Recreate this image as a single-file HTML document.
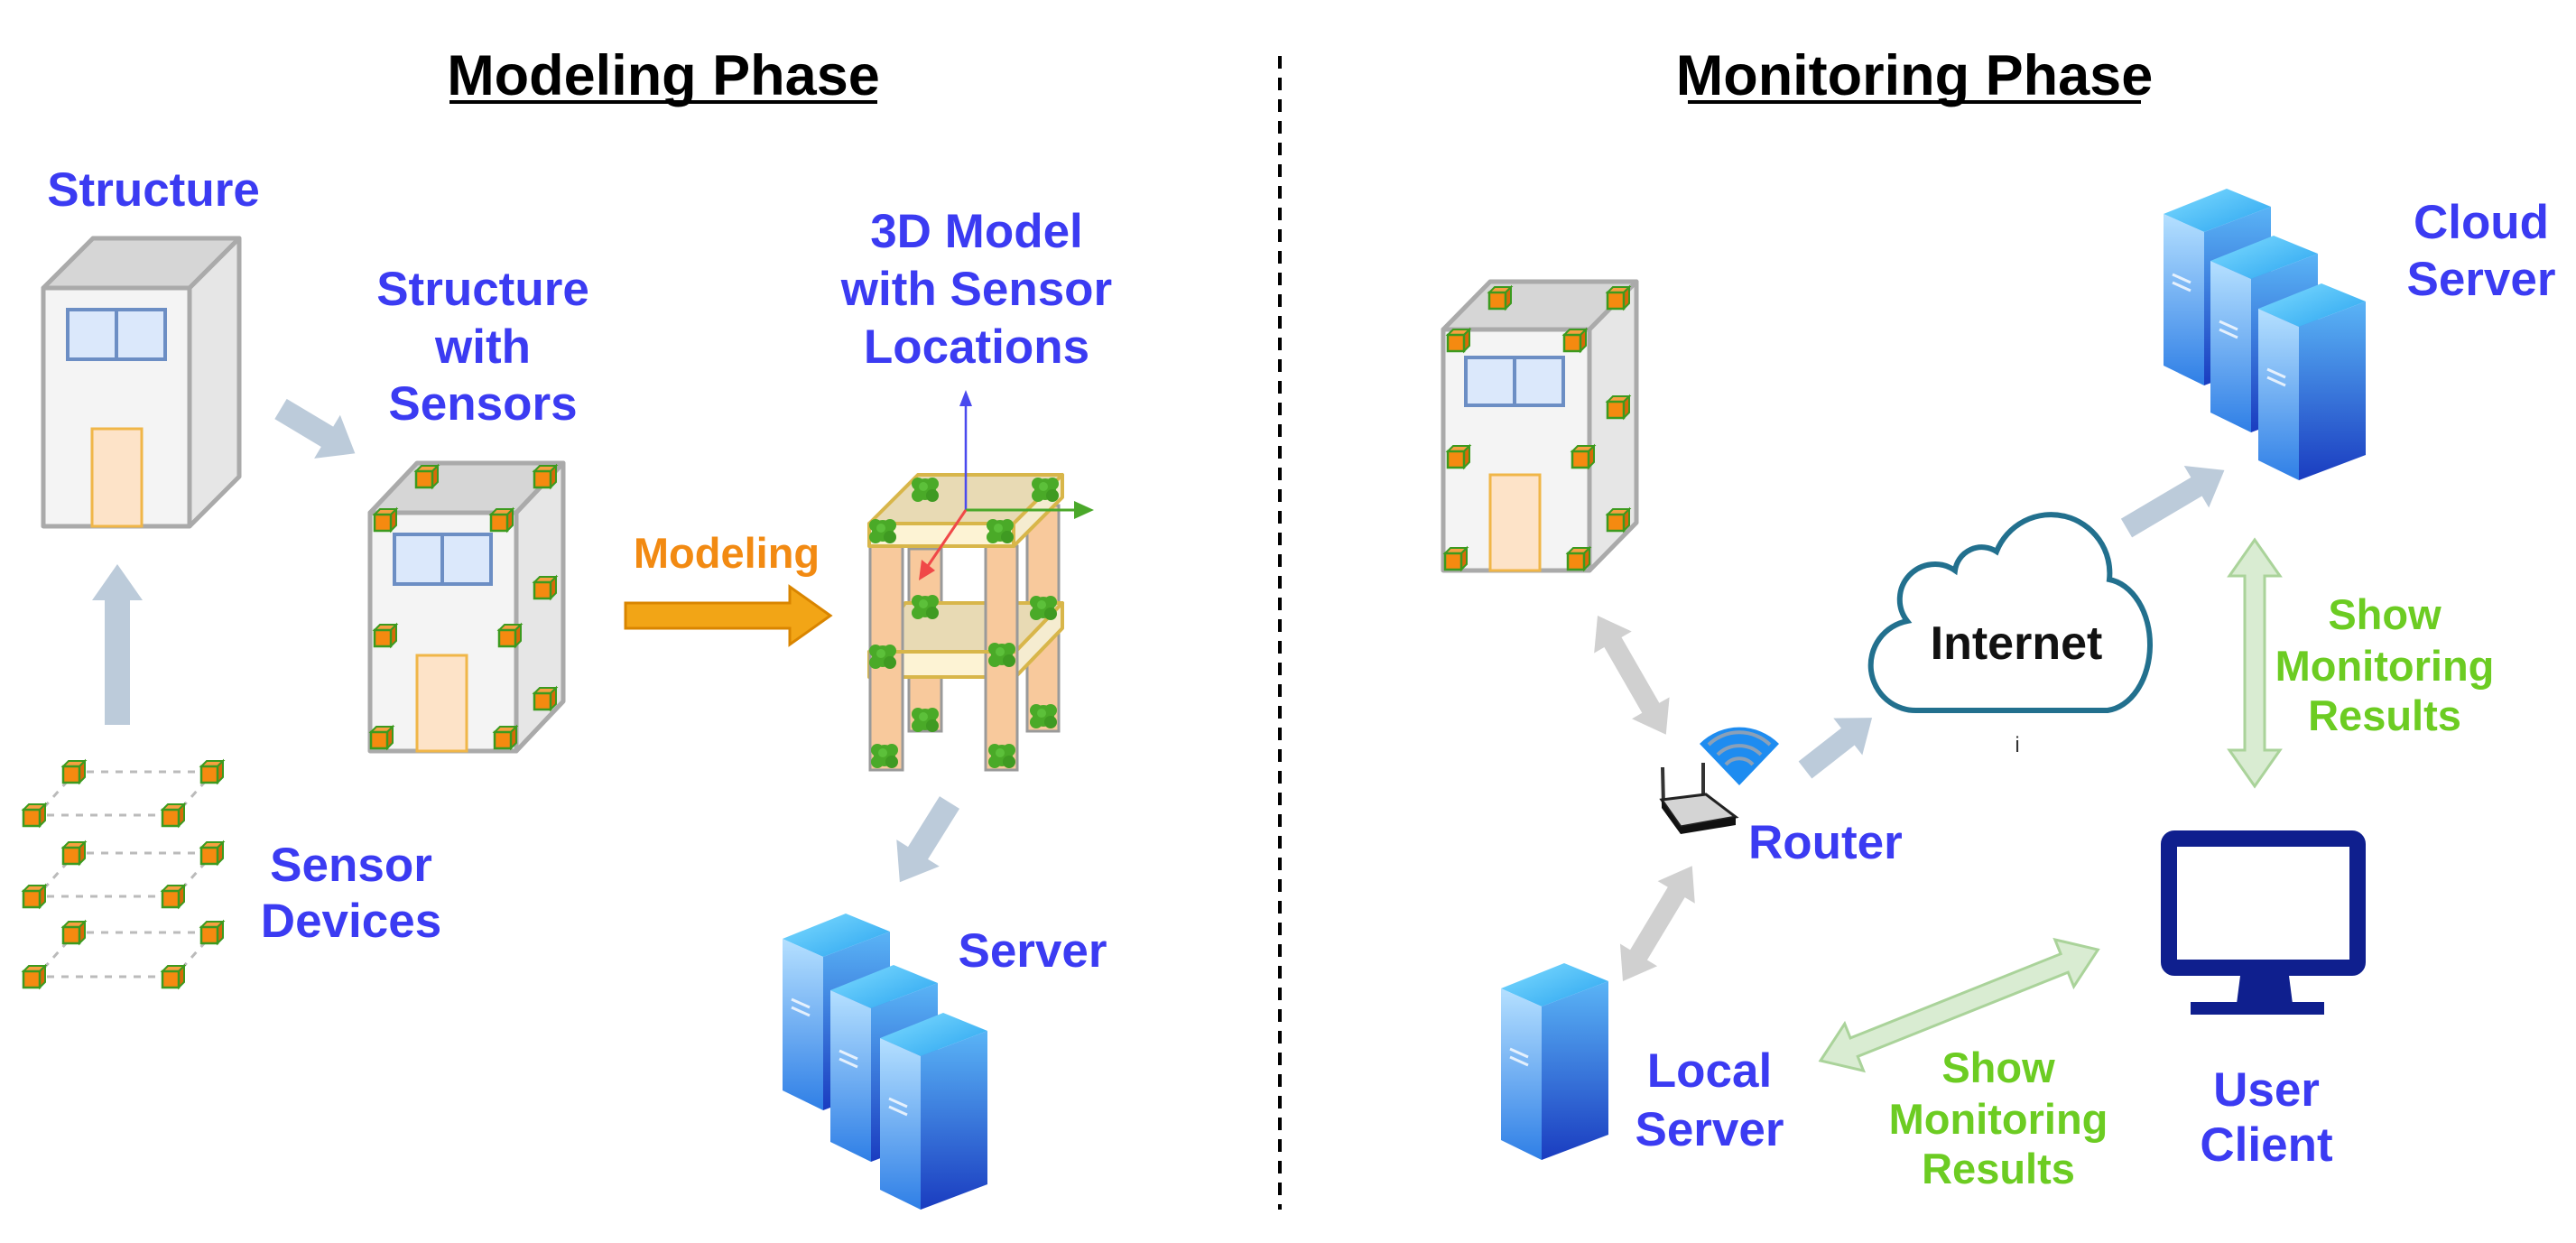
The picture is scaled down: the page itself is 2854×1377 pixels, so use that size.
<!DOCTYPE html>
<html><head><meta charset="utf-8"><style>
html,body{margin:0;padding:0;background:#fff;}
svg{display:block;}
text{font-family:"Liberation Sans",Arial,sans-serif;font-weight:bold;}
.b{fill:#3b3bf2;font-size:53px;}
.g{fill:#6ccc22;font-size:47px;}
</style></head><body>
<svg width="2854" height="1377" viewBox="0 0 2854 1377" xmlns="http://www.w3.org/2000/svg">
<defs>
<linearGradient id="gTop" x1="0" y1="0" x2="1" y2="1"><stop offset="0" stop-color="#7fdcff"/><stop offset="1" stop-color="#2aa4f0"/></linearGradient>
<linearGradient id="gLeft" x1="0" y1="0" x2="0" y2="1"><stop offset="0" stop-color="#b5e0ff"/><stop offset="1" stop-color="#2f7fe6"/></linearGradient>
<linearGradient id="gFront" x1="0" y1="0" x2="0" y2="1"><stop offset="0" stop-color="#5ab4f6"/><stop offset="1" stop-color="#1a3cc0"/></linearGradient>
<symbol id="srv" viewBox="0 0 119 218" width="119" height="218" overflow="visible">
<polygon points="0,28 70,0 119,20 45,48" fill="url(#gTop)"/>
<polygon points="0,28 45,48 45,218 0,196" fill="url(#gLeft)"/>
<polygon points="45,48 119,20 119,190 45,218" fill="url(#gFront)"/>
<line x1="10" y1="95" x2="30" y2="104" stroke="#fff" stroke-width="3" opacity=".8"/>
<line x1="10" y1="104" x2="30" y2="113" stroke="#fff" stroke-width="3" opacity=".8"/>
</symbol>
<symbol id="cube" viewBox="0 0 28 28" width="28" height="28" overflow="visible">
<polygon points="2,8 8,2 26,2 20,8" fill="#f7a040" stroke="#3c9a1e" stroke-width="2"/>
<polygon points="20,8 26,2 26,20 20,26" fill="#d86a08" stroke="#3c9a1e" stroke-width="2"/>
<rect x="2" y="8" width="18" height="18" fill="#f58a10" stroke="#3c9a1e" stroke-width="2.5"/>
</symbol>
<symbol id="blob" viewBox="-16 -16 32 32" width="32" height="32" overflow="visible">
<circle cx="0" cy="0" r="12" fill="#4aaa28"/>
<circle cx="-8" cy="-6" r="7" fill="#4aaa28"/><circle cx="8" cy="-6" r="7" fill="#4aaa28"/>
<circle cx="-8" cy="7" r="7" fill="#4aaa28"/><circle cx="8" cy="7" r="7" fill="#3f9a22"/>
<circle cx="-2" cy="-3" r="5" fill="#5cc03a"/>
</symbol>
</defs>

<text x="735" y="105" text-anchor="middle" style="font-size:63px" fill="#000">Modeling Phase</text>
<line x1="498" y1="113" x2="972" y2="113" stroke="#000" stroke-width="4"/>
<text x="2121" y="105" text-anchor="middle" style="font-size:63px" fill="#000">Monitoring Phase</text>
<line x1="1870" y1="113" x2="2372" y2="113" stroke="#000" stroke-width="4"/>

<line x1="1418" y1="62" x2="1418" y2="1340" stroke="#000" stroke-width="4" stroke-dasharray="14,10"/>

<g stroke="#aaa" stroke-width="5" stroke-linejoin="round">
<polygon points="48,319 210,319 265,264 103,264" fill="#d6d6d6"/>
<polygon points="210,319 265,264 265,528 210,583" fill="#e6e6e6"/>
<rect x="48" y="319" width="162" height="264" fill="#f4f4f4"/>
</g>
<rect x="75" y="343" width="108" height="55" fill="#dbe8fb" stroke="#6c8ec4" stroke-width="4"/>
<line x1="129" y1="343" x2="129" y2="398" stroke="#6c8ec4" stroke-width="4"/>
<rect x="102" y="475" width="55" height="108" fill="#fde3c8" stroke="#f0b648" stroke-width="3"/>
<text class="b" x="170" y="228" text-anchor="middle">Structure</text>

<g fill="#bccbda">
<polygon transform="translate(130,803) rotate(-90)" points="0,-14 138,-14 138,-28 178,0 138,28 138,14 0,14"/>
<polygon transform="translate(311,453) rotate(30.9)" points="0,-13 60,-13 60,-28 96,0 60,28 60,13 0,13"/>
<polygon transform="translate(1052,889) rotate(122)" points="0,-13 66,-13 66,-28 104,0 66,28 66,13 0,13"/>
</g>

<g stroke="#bbb" stroke-width="3" stroke-dasharray="8,8">
<line x1="96" y1="855" x2="235" y2="855"/><line x1="52" y1="903" x2="192" y2="903"/>
<line x1="96" y1="945" x2="235" y2="945"/><line x1="52" y1="993" x2="192" y2="993"/>
<line x1="96" y1="1033" x2="235" y2="1033"/><line x1="52" y1="1082" x2="192" y2="1082"/>
<line x1="75" y1="865" x2="50" y2="893"/><line x1="228" y1="865" x2="203" y2="893"/>
<line x1="75" y1="955" x2="50" y2="983"/><line x1="228" y1="955" x2="203" y2="983"/>
<line x1="75" y1="1043" x2="50" y2="1071"/><line x1="228" y1="1043" x2="203" y2="1071"/>
</g>
<use href="#cube" x="68" y="841"/><use href="#cube" x="221" y="841"/>
<use href="#cube" x="24" y="889"/><use href="#cube" x="178" y="889"/>
<use href="#cube" x="68" y="931"/><use href="#cube" x="221" y="931"/>
<use href="#cube" x="24" y="979"/><use href="#cube" x="178" y="979"/>
<use href="#cube" x="68" y="1019"/><use href="#cube" x="221" y="1019"/>
<use href="#cube" x="24" y="1068"/><use href="#cube" x="178" y="1068"/>
<text class="b" x="389" y="976" text-anchor="middle">Sensor</text>
<text class="b" x="389" y="1038" text-anchor="middle">Devices</text>

<g stroke="#aaa" stroke-width="5" stroke-linejoin="round">
<polygon points="410,568 572,568 624,513 462,513" fill="#d6d6d6"/>
<polygon points="572,568 624,513 624,777 572,832" fill="#e6e6e6"/>
<rect x="410" y="568" width="162" height="264" fill="#f4f4f4"/>
</g>
<rect x="437" y="592" width="107" height="55" fill="#dbe8fb" stroke="#6c8ec4" stroke-width="4"/>
<line x1="490" y1="592" x2="490" y2="647" stroke="#6c8ec4" stroke-width="4"/>
<rect x="462" y="726" width="55" height="106" fill="#fde3c8" stroke="#f0b648" stroke-width="3"/>
<use href="#cube" x="459" y="514"/><use href="#cube" x="590" y="514"/>
<use href="#cube" x="413" y="562"/><use href="#cube" x="542" y="562"/>
<use href="#cube" x="590" y="637"/><use href="#cube" x="413" y="690"/>
<use href="#cube" x="551" y="690"/><use href="#cube" x="590" y="760"/>
<use href="#cube" x="409" y="803"/><use href="#cube" x="546" y="803"/>
<text class="b" x="535" y="338" text-anchor="middle">Structure</text>
<text class="b" x="535" y="402" text-anchor="middle">with</text>
<text class="b" x="535" y="465" text-anchor="middle">Sensors</text>

<text x="805" y="629" text-anchor="middle" style="font-size:47px" fill="#f28a12">Modeling</text>
<polygon points="693,668 875,668 875,650 920,682 875,714 875,696 693,696" fill="#f2a516" stroke="#d98500" stroke-width="3"/>

<text class="b" x="1082" y="274" text-anchor="middle">3D Model</text>
<text class="b" x="1082" y="338" text-anchor="middle">with Sensor</text>
<text class="b" x="1082" y="402" text-anchor="middle">Locations</text>
<g stroke="#9a9a9a" stroke-width="3">
<rect x="1138" y="560" width="35" height="250" fill="#f8c99c"/>
<rect x="1007" y="608" width="36" height="202" fill="#f8c99c"/>
</g>
<g stroke="#d8b64a" stroke-width="4" stroke-linejoin="round">
<polygon points="963,722 1125,722 1177,668 1003,668" fill="#e8dab4"/>
<polygon points="1125,722 1177,668 1177,696 1125,750" fill="#f5ecd0"/>
<rect x="963" y="722" width="162" height="28" fill="#fdf3d4"/>
</g>
<g stroke="#9a9a9a" stroke-width="3">
<rect x="964" y="605" width="36" height="248" fill="#f8c99c"/>
<rect x="1092" y="605" width="35" height="248" fill="#f8c99c"/>
</g>
<g stroke="#d8b64a" stroke-width="4" stroke-linejoin="round">
<polygon points="963,580 1123,580 1177,526 1017,526" fill="#e8dab4"/>
<polygon points="1123,580 1177,526 1177,551 1123,605" fill="#f5ecd0"/>
<rect x="963" y="580" width="160" height="25" fill="#fdf3d4"/>
<line x1="963" y1="722" x2="1125" y2="722"/>
</g>
<use href="#blob" x="1009" y="526"/><use href="#blob" x="1142" y="526"/>
<use href="#blob" x="962" y="572"/><use href="#blob" x="1092" y="572"/>
<use href="#blob" x="1009" y="656"/><use href="#blob" x="1140" y="657"/>
<use href="#blob" x="962" y="711"/><use href="#blob" x="1094" y="709"/>
<use href="#blob" x="1009" y="781"/><use href="#blob" x="1140" y="777"/>
<use href="#blob" x="964" y="821"/><use href="#blob" x="1094" y="821"/>
<line x1="1070" y1="565" x2="1070" y2="446" stroke="#4a4aee" stroke-width="2.5"/>
<polygon points="1070,432 1063,450 1077,450" fill="#4a4aee"/>
<line x1="1070" y1="565" x2="1195" y2="565" stroke="#4aa82a" stroke-width="3"/>
<polygon points="1212,565 1190,555 1190,575" fill="#4aa82a"/>
<line x1="1070" y1="565" x2="1026" y2="630" stroke="#f04848" stroke-width="3"/>
<polygon points="1018,643 1021,620 1036,632" fill="#f04848"/>

<use href="#srv" x="867" y="1012"/>
<use href="#srv" x="920" y="1069"/>
<use href="#srv" x="975" y="1122"/>
<text class="b" x="1144" y="1071" text-anchor="middle">Server</text>

<g stroke="#aaa" stroke-width="5" stroke-linejoin="round">
<polygon points="1599,365 1761,365 1813,312 1651,312" fill="#d6d6d6"/>
<polygon points="1761,365 1813,312 1813,579 1761,632" fill="#e6e6e6"/>
<rect x="1599" y="365" width="162" height="267" fill="#f4f4f4"/>
</g>
<rect x="1624" y="396" width="108" height="53" fill="#dbe8fb" stroke="#6c8ec4" stroke-width="4"/>
<line x1="1678" y1="396" x2="1678" y2="449" stroke="#6c8ec4" stroke-width="4"/>
<rect x="1651" y="526" width="55" height="106" fill="#fde3c8" stroke="#f0b648" stroke-width="3"/>
<use href="#cube" x="1648" y="316"/><use href="#cube" x="1779" y="316"/>
<use href="#cube" x="1602" y="363"/><use href="#cube" x="1731" y="363"/>
<use href="#cube" x="1779" y="437"/><use href="#cube" x="1602" y="492"/>
<use href="#cube" x="1740" y="492"/><use href="#cube" x="1779" y="562"/>
<use href="#cube" x="1599" y="605"/><use href="#cube" x="1735" y="605"/>

<g fill="#d0d0d0">
<polygon transform="translate(1770,682) rotate(60.1)" points="0,0 34,-24 34,-11 118,-11 118,-24 152,0 118,24 118,11 34,11 34,24"/>
<polygon transform="translate(1798,1087) rotate(-59)" points="0,0 34,-24 34,-11 115,-11 115,-24 149,0 115,24 115,11 34,11 34,24"/>
</g>
<g fill="#bccbda">
<polygon transform="translate(2000,853) rotate(-38)" points="0,-12 60,-12 60,-26 94,0 60,26 60,12 0,12"/>
<polygon transform="translate(2356,585) rotate(-30.6)" points="0,-12 90,-12 90,-27 126,0 90,27 90,12 0,12"/>
</g>

<!-- Router -->
<path d="M1927,870 L1883,824 A62,62 0 0 1 1971,824 Z" fill="#1e8cf0"/>
<g fill="none" stroke="#8aa0b8" stroke-width="4">
<path d="M1893,825 A49,49 0 0 1 1961,825"/>
<path d="M1903,836 A34,34 0 0 1 1951,836"/>
<path d="M1912,847 A20,20 0 0 1 1942,847"/>
</g>
<line x1="1842" y1="850" x2="1843" y2="892" stroke="#333" stroke-width="4"/>
<line x1="1887" y1="845" x2="1887" y2="886" stroke="#333" stroke-width="4"/>
<polygon points="1841,886 1890,880 1923,905 1862,916" fill="#d4d4d4" stroke="#222" stroke-width="3"/>
<polygon points="1841,886 1862,916 1923,905 1923,914 1862,924 1841,895" fill="#111"/>
<text class="b" x="1937" y="951">Router</text>

<!-- Cloud -->
<path d="M2125,787 H2335 A52,73 0 0 0 2337,642 A65,65 0 0 0 2212,611 A30,30 0 0 0 2166,632 A39,39 0 0 0 2113,688 A50,50 0 0 0 2125,787 Z" fill="#fff" stroke="#22708e" stroke-width="6"/>
<text x="2234" y="730" text-anchor="middle" style="font-size:52px" fill="#111">Internet</text>
<text x="2235" y="833" text-anchor="middle" style="font-size:24px;font-weight:normal" fill="#333">i</text>

<use href="#srv" x="2397" y="209"/>
<use href="#srv" x="2449" y="261"/>
<use href="#srv" x="2502" y="314"/>
<text class="b" x="2749" y="264" text-anchor="middle">Cloud</text>
<text class="b" x="2749" y="327" text-anchor="middle">Server</text>

<g fill="#d9ecd2" stroke="#aad39a" stroke-width="3">
<polygon transform="translate(2498,598) rotate(90)" points="0,0 40,-28 40,-11 233,-11 233,-28 273,0 233,28 233,11 40,11 40,28"/>
<polygon transform="translate(2017,1175) rotate(-21.8)" points="0,0 40,-28 40,-11 291,-11 291,-28 331,0 291,28 291,11 40,11 40,28"/>
</g>
<text class="g" x="2642" y="697" text-anchor="middle">Show</text>
<text class="g" x="2642" y="754" text-anchor="middle">Monitoring</text>
<text class="g" x="2642" y="809" text-anchor="middle">Results</text>

<rect x="2403" y="929" width="209" height="143" rx="6" fill="#fff" stroke="#0f1f8e" stroke-width="18"/>
<polygon points="2482,1081 2536,1081 2540,1112 2478,1112" fill="#0f1f8e"/>
<rect x="2427" y="1110" width="148" height="14" fill="#0f1f8e"/>
<text class="b" x="2511" y="1225" text-anchor="middle">User</text>
<text class="b" x="2511" y="1286" text-anchor="middle">Client</text>

<text class="g" x="2214" y="1199" text-anchor="middle">Show</text>
<text class="g" x="2214" y="1256" text-anchor="middle">Monitoring</text>
<text class="g" x="2214" y="1311" text-anchor="middle">Results</text>

<use href="#srv" x="1663" y="1067"/>
<text class="b" x="1894" y="1204" text-anchor="middle">Local</text>
<text class="b" x="1894" y="1269" text-anchor="middle">Server</text>
</svg>
</body></html>
